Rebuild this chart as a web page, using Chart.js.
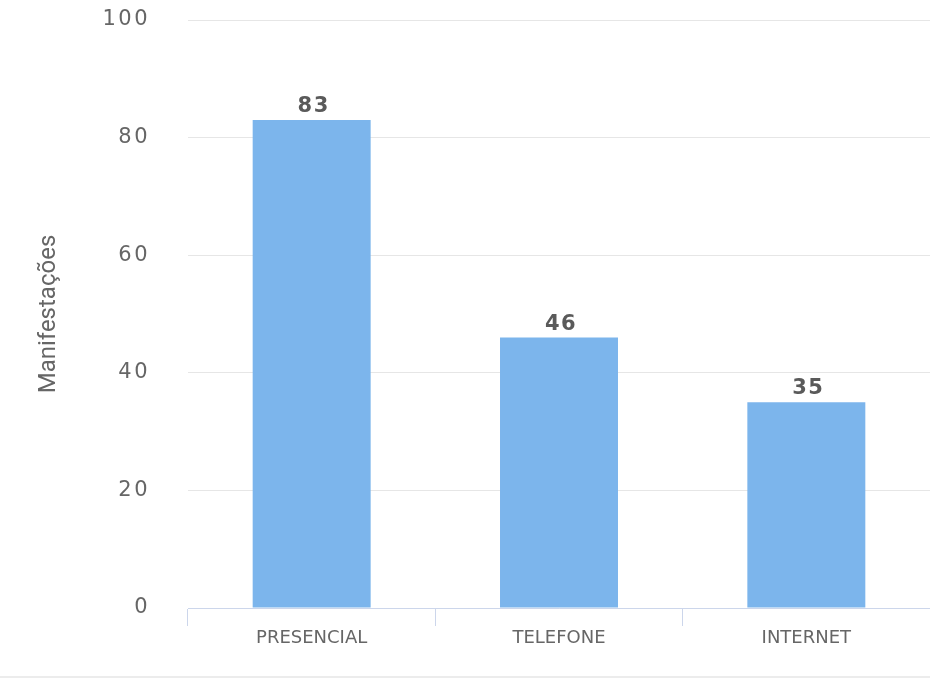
<!DOCTYPE html>
<html>
<head>
<meta charset="utf-8">
<script src="https://cdn.jsdelivr.net/npm/chart.js@4"></script>
<style>
  html, body { margin: 0; padding: 0; background: #fff; overflow: hidden; }
  #wrap { width: 930px; height: 676px; border-bottom: 2px solid #ececec; position: relative; }
</style>
</head>
<body>
<div id="wrap"><canvas id="chart"></canvas></div>
<script>
const categories = ['PRESENCIAL', 'TELEFONE', 'INTERNET'];
const manifestacoes = [83, 46, 35];
const yTicks = [0, 20, 40, 60, 80, 100];

// draws the value above every bar
const barLabels = {
	id: 'barLabels',
	afterDatasetsDraw(chart){
		const ctx = chart.ctx;
		const meta = chart.getDatasetMeta(0);
		ctx.save();
		ctx.font = 'bold 21px "DejaVu Sans"';
		ctx.letterSpacing = '1.5px';
		ctx.fillStyle = '#5a5a5a';
		ctx.textAlign = 'center';
		ctx.textBaseline = 'alphabetic';
		meta.data.forEach((bar, i) => {
			ctx.fillText(manifestacoes[i], bar.x + 2, bar.y - 8);
		});
		ctx.restore();
	}
};

// slightly wider spaced numbers on the value axis
function spaceLabels(scale){
	if(scale._spaced) return;
	const orig = scale.drawLabels.bind(scale);
	scale.drawLabels = (area) => {
		scale.ctx.save();
		scale.ctx.letterSpacing = '2.5px';
		orig(area);
		scale.ctx.restore();
	};
	scale._spaced = true;
}

new Chart(document.getElementById('chart'), {
	type: 'bar',
	data: {
		labels: categories,
		datasets: [{
			label: 'Manifestações',
			data: manifestacoes,
			backgroundColor: '#7cb5ec',
			categoryPercentage: 1,
			barPercentage: 0.477
		}]
	},
	options: {
		responsive: true,
		maintainAspectRatio: false,
		animation: false,
		layout: { padding: { top: 20, left: 0, right: 0, bottom: 0 } },
		plugins: {
			legend: { display: false },
			tooltip: { enabled: false }
		},
		scales: {
			x: {
				grid: {
					offset: true,
					drawOnChartArea: false,
					drawTicks: true,
					tickLength: 18,
					color: '#ccd6eb'
				},
				border: { color: '#ccd6eb', width: 1 },
				ticks: {
					color: '#666',
					padding: 2,
					font: { family: 'DejaVu Sans', size: 18 }
				},
				afterFit(scale){ scale.height = 68; }
			},
			y: {
				min: 0,
				max: 100,
				afterBuildTicks(scale){ scale.ticks = yTicks.map(v => ({ value: v })); },
				grid: { color: '#e6e6e6', drawTicks: true, tickLength: 36, tickColor: 'rgba(0,0,0,0)' },
				border: { display: false },
				ticks: {
					color: '#666',
					padding: 2,
					font: { family: 'DejaVu Sans', size: 21 }
				},
				title: {
					display: true,
					text: 'Manifestações',
					color: '#666',
					padding: { top: 35, bottom: 0 },
					font: { family: 'Roboto', size: 24 }
				},
				afterFit(scale){ scale.width = 188; spaceLabels(scale); }
			}
		}
	},
	plugins: [barLabels]
});
</script>
</body>
</html>
